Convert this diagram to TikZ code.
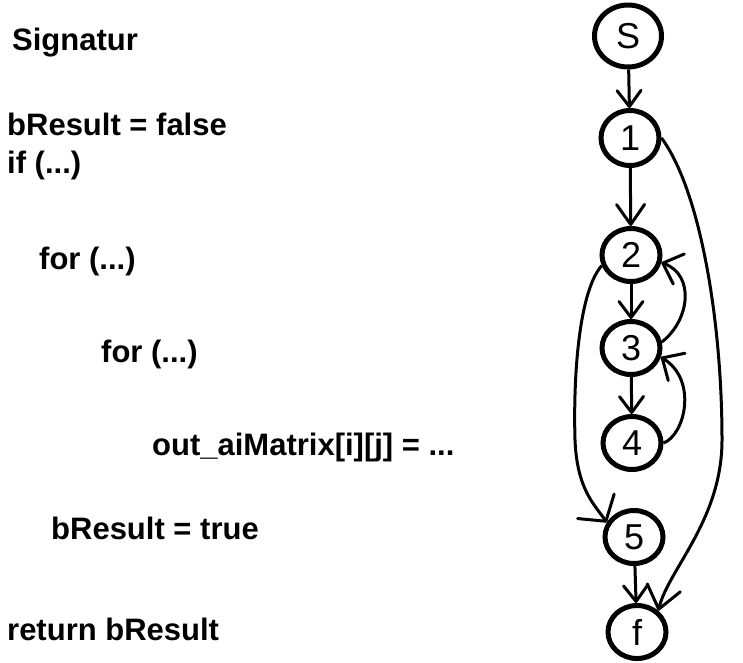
\documentclass[tikz,border=0pt]{standalone}
\usepackage{fontspec}
\setmainfont{Liberation Sans}
\usetikzlibrary{arrows.meta,shapes.geometric}
\begin{document}
\begin{tikzpicture}[x=1pt,y=-1pt,
  code/.style={anchor=base west, inner sep=0pt, font=\fontsize{31}{36}\selectfont\bfseries},
  state/.style={draw, ellipse, line width=5pt, minimum width=58pt, minimum height=53pt, inner sep=0pt, font=\fontsize{36}{40}\selectfont},
  flow/.style={line width=3pt, -{Straight Barb[length=16pt,width=24pt,round]}},
  loopback/.style={line width=3pt, -{Straight Barb[length=17pt,width=32pt,round]}},
  longedge/.style={line width=3pt, -{Straight Barb[length=22pt,width=34pt,round]}}
]
\useasboundingbox (0,0) rectangle (743,662);

% code lines
\node[code] (t1) at (12,50) {Signatur};
\node[code] (t2) at (7,135) {bResult = false};
\node[code] (t3) at (7,173) {if (...)};
\node[code] (t4) at (39,269) {for (...)};
\node[code] (t5) at (101,362) {for (...)};
\node[code] (t6) at (152,455) {out\_aiMatrix[i][j] = ...};
\node[code] (t7) at (51,539) {bResult = true};
\node[code] (t8) at (7,640) {return bResult};

% graph nodes
\node[state, minimum width=67pt, minimum height=62pt] (S) at (628,36) {S};
\node[state, minimum height=55pt] (n1) at (630,138) {1};
\node[state] (n2) at (631,255) {2};
\node[state] (n3) at (631,348) {3};
\node[state] (n4) at (632,443) {4};
\node[state] (n5) at (634,537) {5};
\node[state] (f) at (637,632) {f};

% straight edges
\draw[flow] (S) -- (n1);
\draw[flow, -{Straight Barb[length=20pt,width=28pt,round]}] (n1) -- (n2);
\draw[flow] (n2) -- (n3);
\draw[flow] (n3) -- (n4);
\draw[flow] (n5) -- (f);

% back edges
\draw[loopback] (n3.11) .. controls (690,320) and (695,275) .. (n2.-14);
\draw[loopback] (n4.0) .. controls (685,435) and (698,380) .. (n3.-17);

% long edges
\draw[longedge] (n1.east) .. controls (700,190) and (722,320) .. (722,440)
  .. controls (722,520) and (668,570) .. (f.45);
\draw[longedge, -{Straight Barb[length=18pt,width=44pt,round]}] (n2.200) .. controls (580,290) and (573,370) .. (575,440)
  .. controls (577,490) and (595,505) .. (n5.152);
\end{tikzpicture}
\end{document}
